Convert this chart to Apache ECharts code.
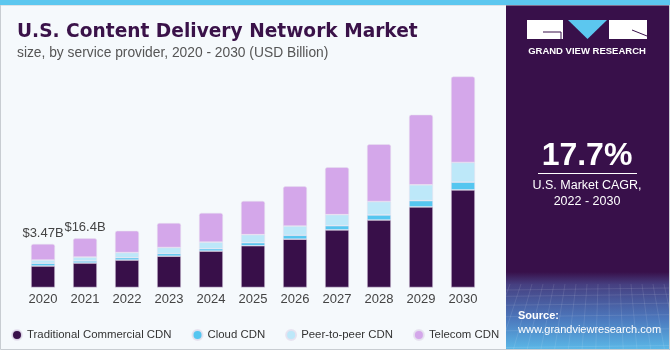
<!DOCTYPE html>
<html>
<head>
<meta charset="utf-8">
<script src="https://cdn.jsdelivr.net/npm/echarts@6/dist/echarts.min.js"></script>
<style>
  html, body { margin: 0; padding: 0; background: #f5f9fc; }
  #chart { width: 670px; height: 350px; }
</style>
</head>
<body>
<div id="chart"></div>
<script>
      // data (USD Billion, approx.)
      var years = ['2020', '2021', '2022', '2023', '2024', '2025', '2026', '2027', '2028', '2029', '2030'];
      var traditional = [7.2, 8.2, 9.2, 10.5, 12.2, 14.0, 16.2, 19.3, 22.6, 27.0, 32.7];
      var cloud = [0.9, 0.7, 0.8, 0.9, 0.8, 1.0, 1.3, 1.4, 1.7, 2.1, 2.6];
      var peer = [1.1, 1.3, 1.7, 2.0, 2.2, 2.7, 3.1, 3.7, 4.5, 5.3, 6.6];
      var telecom = [5.4, 6.3, 7.3, 8.2, 9.8, 11.3, 13.3, 15.9, 19.2, 23.5, 28.8];
      var topLabels = ['$3.47B', '$16.4B', '', '', '', '', '', '', '', '', ''];

      var font = '"Liberation Sans", Arial, sans-serif';
      var myChart = echarts.init(document.getElementById('chart'));

      function bar(name, data, color, last) {
          var s = {
              name: name,
              type: 'bar',
              stack: 'total',
              barWidth: 24,
              data: data,
              itemStyle: {
                  color: color,
                  borderColor: 'rgba(230,225,238,0.9)',
                  borderWidth: 0.6,
                  borderRadius: last ? [2, 2, 0, 0] : 0
              }
          };
          if (last) {
              s.label = {
                  show: true,
                  position: 'top',
                  distance: 4,
                  fontFamily: font,
                  fontSize: 13,
                  color: '#444',
                  formatter: function (p) { return topLabels[p.dataIndex]; }
              };
          }
          return s;
      }

      // faint grid texture in the bottom of the side panel
      var texture = [];
      for (var i = 0; i < 7; i++) {
          var yy = 290 + i * i * 1.3 + i * 5;
          texture.push({ type: 'line', shape: { x1: 506, y1: yy, x2: 670, y2: yy - 2 }, style: { stroke: 'rgba(255,255,255,0.13)', lineWidth: 0.8 }, z: 7 });
      }
      for (var j = 0; j < 16; j++) {
          var xx = 506 + j * 11;
          texture.push({ type: 'line', shape: { x1: xx + 4, y1: 284, x2: xx - (587 - xx) * 0.25, y2: 350 }, style: { stroke: 'rgba(255,255,255,0.13)', lineWidth: 0.8 }, z: 7 });
      }

      var option = {
          backgroundColor: '#f5f9fc',
          animation: false,
          title: {
              text: 'U.S. Content Delivery Network Market',
              subtext: 'size, by service provider, 2020 - 2030 (USD Billion)',
              left: 12,
              top: 18,
              itemGap: 4,
              textStyle: { fontFamily: '"DejaVu Sans", sans-serif', fontSize: 18.6, fontWeight: 'bold', color: '#3a1249' },
              subtextStyle: { fontFamily: font, fontSize: 13.8, color: '#555' }
          },
          legend: {
              left: 6,
              top: 324,
              icon: 'circle',
              itemWidth: 10,
              itemHeight: 10,
              itemGap: 20,
              textStyle: { fontFamily: font, fontSize: 11.4, color: '#333' },
              data: ['Traditional Commercial CDN', 'Cloud CDN', 'Peer-to-peer CDN', 'Telecom CDN']
          },
          grid: { left: 22, right: 186, top: 48.7, bottom: 62.5 },
          xAxis: {
              type: 'category',
              data: years,
              axisLine: { show: false },
              axisTick: { show: false },
              axisLabel: { fontFamily: font, fontSize: 13, color: '#444', margin: 5 }
          },
          yAxis: {
              type: 'value',
              min: 0,
              max: 80,
              show: false
          },
          series: [
              bar('Traditional Commercial CDN', traditional, '#380f49', false),
              bar('Cloud CDN', cloud, '#55c6f0', false),
              bar('Peer-to-peer CDN', peer, '#bde8f9', false),
              bar('Telecom CDN', telecom, '#d4a7ea', true)
          ],
          graphic: [
              // top strip
              { type: 'rect', shape: { x: 0, y: 0, width: 670, height: 5 }, style: { fill: '#5cc7ef' }, z: 10 },
              // frame
              { type: 'rect', shape: { x: 0.5, y: 5, width: 669, height: 344.5 }, style: { fill: 'none', stroke: '#c8cdd2', lineWidth: 1 }, z: 9 },
              // right panel
              { type: 'rect', shape: { x: 506, y: 5, width: 164, height: 345 }, style: { fill: '#38104a' }, z: 5 },
              {
                  type: 'rect', shape: { x: 506, y: 272, width: 164, height: 78 },
                  style: {
                      fill: new echarts.graphic.LinearGradient(0, 0, 0, 1, [
                          { offset: 0, color: '#38104a' },
                          { offset: 0.16, color: '#463f80' },
                          { offset: 0.6, color: '#4c78bd' },
                          { offset: 1, color: '#5bb9e8' }
                      ])
                  }, z: 6
              },
              // logo
              { type: 'rect', shape: { x: 527, y: 20, width: 36, height: 19 }, style: { fill: '#fff' }, z: 11 },
              { type: 'polyline', shape: { points: [[543, 32], [561, 32], [561, 39]] }, style: { stroke: '#38104a', lineWidth: 1, fill: 'none' }, z: 12 },
              { type: 'polygon', shape: { points: [[568, 20], [607, 20], [587.5, 39]] }, style: { fill: '#5cc7ef' }, z: 11 },
              { type: 'rect', shape: { x: 609, y: 20, width: 38, height: 19 }, style: { fill: '#fff' }, z: 11 },
              { type: 'line', shape: { x1: 632, y1: 30, x2: 647, y2: 36 }, style: { stroke: '#38104a', lineWidth: 1 }, z: 12 },
              { type: 'text', x: 587, y: 51, style: { text: 'GRAND VIEW RESEARCH', fill: '#fff', font: 'bold 9.5px ' + font, align: 'center', verticalAlign: 'middle' }, z: 11 },
              // CAGR
              { type: 'text', x: 587, y: 156, style: { text: '17.7%', fill: '#fff', font: 'bold 32px ' + font, align: 'center', verticalAlign: 'middle' }, z: 11 },
              { type: 'line', shape: { x1: 538, y1: 173.5, x2: 637, y2: 173.5 }, style: { stroke: '#fff', lineWidth: 1.2 }, z: 11 },
              { type: 'text', x: 587, y: 186, style: { text: 'U.S. Market CAGR,', fill: '#fff', font: '12.5px ' + font, align: 'center', verticalAlign: 'middle' }, z: 11 },
              { type: 'text', x: 587, y: 202, style: { text: '2022 - 2030', fill: '#fff', font: '12.5px ' + font, align: 'center', verticalAlign: 'middle' }, z: 11 },
              // source
              { type: 'text', x: 518, y: 316, style: { text: 'Source:', fill: '#fff', font: 'bold 11px ' + font, verticalAlign: 'middle' }, z: 11 },
              { type: 'text', x: 518, y: 330, style: { text: 'www.grandviewresearch.com', fill: '#fff', font: '11px ' + font, verticalAlign: 'middle' }, z: 11 }
          ].concat(texture)
      };

      myChart.setOption(option);
</script>
</body>
</html>
